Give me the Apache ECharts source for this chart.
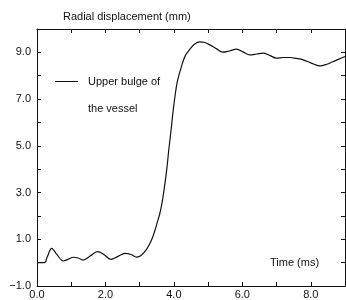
<!DOCTYPE html>
<html>
<head>
<meta charset="utf-8">
<script src="https://cdn.jsdelivr.net/npm/echarts@6/dist/echarts.min.js"></script>
<style>
  html, body { margin: 0; padding: 0; background: #fff; }
  #chart { width: 346px; height: 300px; }
</style>
</head>
<body>
<div id="chart"></div>
<script>
// time (ms) and radial displacement (mm)
var timeMs = [0, 0.22, 0.30, 0.43, 0.58, 0.77, 0.92, 1.06, 1.2, 1.35,
  1.55, 1.77, 1.97, 2.16, 2.37, 2.57, 2.75, 2.91, 3.05, 3.2,
  3.32, 3.42, 3.5, 3.59, 3.67, 3.74, 3.8, 3.85, 3.92, 3.97,
  4.03, 4.1, 4.22, 4.33, 4.47, 4.6, 4.76, 4.9, 5.05, 5.25,
  5.42, 5.62, 5.83, 6.02, 6.22, 6.42, 6.61, 6.8, 7.0, 7.2,
  7.39, 7.58, 7.78, 8.0, 8.26, 8.45, 8.65, 8.82, 9.0];
var displacement = [0, 0, 0.25, 0.61, 0.35, 0.07, 0.15, 0.23, 0.2, 0.11,
  0.28, 0.47, 0.33, 0.14, 0.27, 0.40, 0.35, 0.24, 0.32, 0.57,
  0.88, 1.26, 1.65, 2.11, 2.7, 3.4, 4.1, 4.82, 5.7, 6.4,
  7.1, 7.75, 8.39, 8.85, 9.14, 9.35, 9.45, 9.42, 9.32, 9.15,
  9.01, 9.06, 9.14, 9.02, 8.89, 8.93, 8.97, 8.87, 8.75, 8.78,
  8.78, 8.74, 8.68, 8.55, 8.42, 8.48, 8.6, 8.71, 8.82];
var seriesName = "Upper bulge of\nthe vessel";

var font = "Liberation Sans";
var ink = "#111";

var points = timeMs.map(function (t, i) {
  return [t, displacement[i]];
});

function fmt(v) {
  var s = Math.abs(v).toFixed(1);
  return v < 0 ? "\u2212" + s : s;
}

var chart = echarts.init(document.getElementById("chart"));

var tickStyle = { show: true, inside: true, length: 4, lineStyle: { color: ink, width: 1 } };
var lineStyle = { show: true, onZero: false, lineStyle: { color: ink, width: 1 } };

chart.setOption({
  animation: false,
  textStyle: { fontFamily: font, color: ink },
  grid: { left: 37, right: 1, top: 29, bottom: 14 },
  legend: {
    data: [seriesName],
    left: 50,
    top: 36,
    icon: "rect",
    itemWidth: 23,
    itemHeight: 1,
    itemGap: 0,
    // blank first line so the icon sits level with "Upper bulge of"
    formatter: function (name) {
      return "\n" + name;
    },
    textStyle: { fontFamily: font, fontSize: 11, color: ink, lineHeight: 27, padding: [0, 0, 0, 5] },
  },
  xAxis: [
    {
      type: "value",
      min: 0,
      max: 9,
      interval: 1,
      axisLine: lineStyle,
      axisTick: tickStyle,
      splitLine: { show: false },
      axisLabel: {
        color: ink,
        fontSize: 11,
        fontFamily: font,
        margin: 3,
        showMaxLabel: false,
        formatter: function (v) {
          return v % 2 === 0 ? fmt(v) : "";
        },
      },
    },
    {
      type: "value",
      position: "top",
      min: 0,
      max: 9,
      interval: 1,
      axisLine: lineStyle,
      axisTick: tickStyle,
      axisLabel: { show: false },
      splitLine: { show: false },
    },
  ],
  yAxis: [
    {
      type: "value",
      min: -1,
      max: 10,
      interval: 1,
      axisLine: lineStyle,
      axisTick: tickStyle,
      splitLine: { show: false },
      axisLabel: {
        color: ink,
        fontSize: 11,
        fontFamily: font,
        margin: 6,
        showMaxLabel: false,
        formatter: function (v) {
          return Math.abs(v % 2) === 1 ? fmt(v) : "";
        },
      },
    },
    {
      type: "value",
      position: "right",
      min: -1,
      max: 10,
      interval: 1,
      axisLine: lineStyle,
      axisTick: tickStyle,
      axisLabel: { show: false },
      splitLine: { show: false },
    },
  ],
  series: [
    {
      name: seriesName,
      type: "line",
      data: points,
      smooth: 0.35,
      symbol: "none",
      color: ink,
      lineStyle: { color: ink, width: 1.2 },
    },
  ],
  graphic: [
    {
      type: "text",
      left: 63,
      top: 11,
      style: { text: "Radial displacement (mm)", fontFamily: font, fontSize: 11, fill: ink },
    },
    {
      type: "text",
      left: 270,
      top: 257,
      style: { text: "Time (ms)", fontFamily: font, fontSize: 11, fill: ink },
    },
  ],
});
</script>
</body>
</html>
